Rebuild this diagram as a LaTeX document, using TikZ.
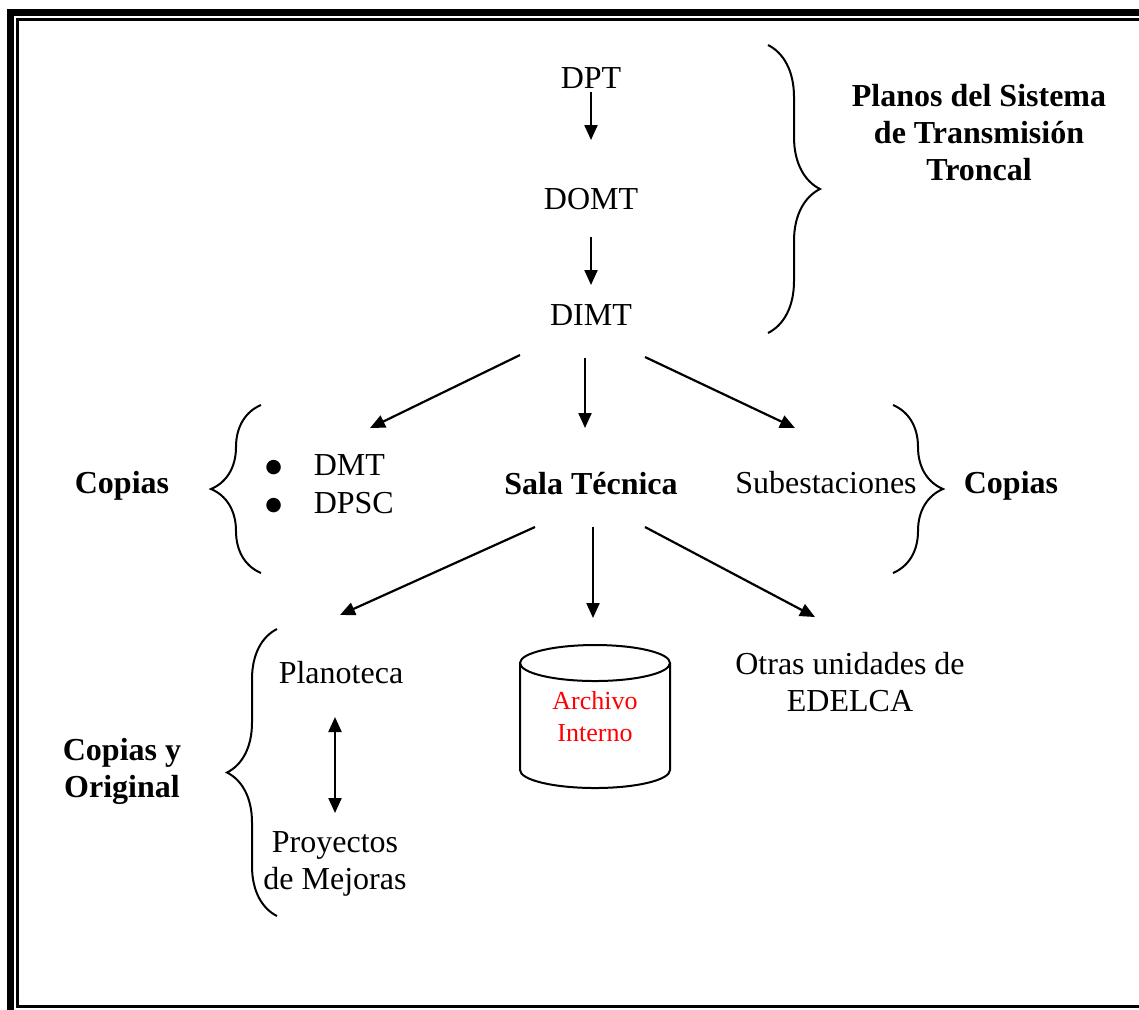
\documentclass[tikz,border=0pt]{standalone}
\usepackage{fontspec}
\setmainfont{Liberation Serif}
\newfontfamily\simbolos{DejaVu Sans}
\usetikzlibrary{arrows.meta,decorations.pathreplacing}

\tikzset{
  texto/.style={inner sep=0pt,font=\fontsize{16}{18.5}\selectfont},
  titulo/.style={inner sep=0pt,font=\fontsize{16}{18.5}\selectfont\bfseries,align=center},
  flecha/.style={line width=1.1pt,-{Triangle[length=7.5pt,width=6.5pt]}},
  dobleflecha/.style={line width=1.1pt,{Triangle[length=7.5pt,width=6.5pt]}-{Triangle[length=7.5pt,width=6.5pt]}},
  llave/.style={line width=1pt,decorate,decoration={brace,amplitude=25pt}},
}
\newcommand{\vineta}{\raisebox{1.5pt}{\simbolos\fontsize{9.5}{9.5}\selectfont ●}}

\begin{document}
\begin{tikzpicture}[x=0.5pt,y=-0.5pt]
   \useasboundingbox (0,0) rectangle (1139,1009);
   \clip (0,0) rectangle (1139,1009);
   % marco
   \draw[line width=3.5pt] (10,12.5) rectangle (1170,1040);
   \draw[line width=1.5pt] (17.5,19.5) rectangle (1160,1006);

   % cadena superior
   \node[texto,anchor=base] (dpt) at (591,88) {DPT};
   \node[texto,anchor=base] (domt) at (591,209) {DOMT};
   \node[texto,anchor=base] (dimt) at (591,325) {DIMT};
   \node[titulo,anchor=north] (planos) at (979,84) {Planos del Sistema\\de Transmisión\\Troncal};
   \draw[llave,decoration={amplitude=26pt}] (768,45) -- (768,333);

   % segundo nivel
   \node[titulo,anchor=base] (copiasizq) at (122,493) {Copias};
   \node[texto,anchor=north west,align=left,font=\fontsize{16}{19}\selectfont] (lista) at (265,454)
      {\vineta\hspace{15.9pt}DMT\\\vineta\hspace{15.9pt}DPSC};
   \node[titulo,anchor=base] (sala) at (591,494) {Sala Técnica};
   \node[texto,anchor=base] (subest) at (826,493) {Subestaciones};
   \node[titulo,anchor=base] (copiasder) at (1011,493) {Copias};
   \draw[llave] (261,573) -- (261,405);
   \draw[llave] (893,405) -- (893,573);

   % tercer nivel
   \node[titulo,anchor=north] (original) at (122,738) {Copias y\\Original};
   \node[texto,anchor=base] (planoteca) at (341,683) {Planoteca};
   \node[texto,anchor=north,align=center] (proyectos) at (335,831) {Proyectos\\de Mejoras};
   \node[texto,anchor=north,align=center] (otras) at (850,652) {Otras unidades de\\EDELCA};
   \node[texto,anchor=north,align=center,text=red,font=\fontsize{13}{16}\selectfont] (archivo) at (595,691) {Archivo\\Interno};
   \draw[line width=1pt] (595,663) ellipse [x radius=75, y radius=18];
   \draw[line width=1pt] (520,663) -- (520,770) arc[start angle=180,end angle=0,x radius=75,y radius=18] -- (670,663);
   \draw[llave] (277,916) -- (277,629);

   % flechas
   \draw[flecha] ([shift={(0,4)}]dpt.base) -- ([shift={(0,-69)}]domt.base);
   \draw[flecha] ([shift={(0,28)}]domt.base) -- ([shift={(0,-40)}]dimt.base);
   \draw[flecha] ([shift={(-71,30)}]dimt.base) -- ([shift={(105,-26)}]lista.north west);
   \draw[flecha] ([shift={(-6,33)}]dimt.base) -- ([shift={(-6,-66)}]sala.base);
   \draw[flecha] ([shift={(54,32)}]dimt.base) -- ([shift={(-31,-65)}]subest.base);
   \draw[flecha] ([shift={(-56,33)}]sala.base) -- ([shift={(-1,-68)}]planoteca.base);
   \draw[flecha] ([shift={(2,33)}]sala.base) -- ([shift={(-2,-73)}]archivo.north);
   \draw[flecha] ([shift={(54,33)}]sala.base) -- ([shift={(-35,-35)}]otras.north);
   \draw[dobleflecha] ([shift={(-6,34)}]planoteca.base) -- ([shift={(0,-18)}]proyectos.north);
\end{tikzpicture}
\end{document}
